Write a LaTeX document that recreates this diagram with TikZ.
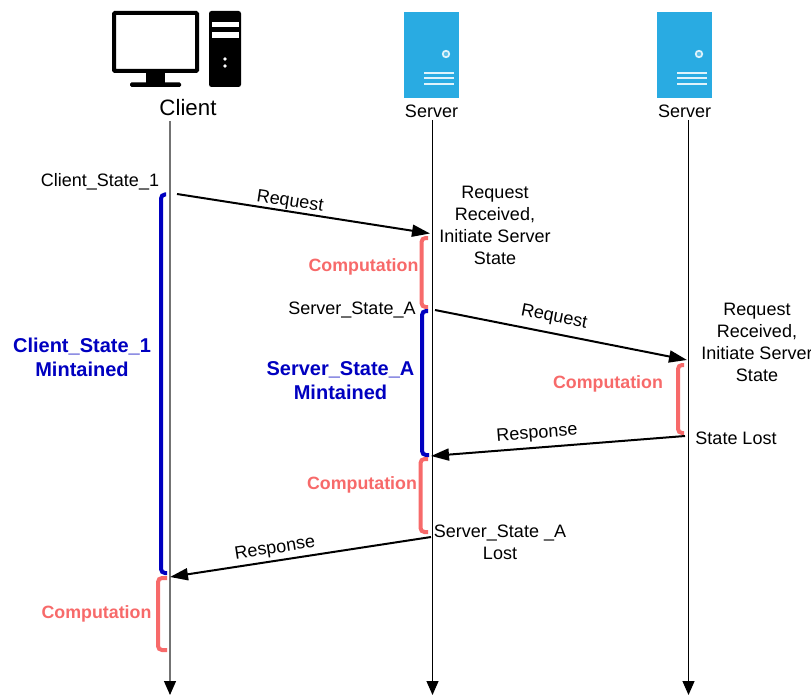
\documentclass[tikz,border=0pt]{standalone}
\usepackage{fontspec}
\setmainfont{Liberation Sans}
\usetikzlibrary{arrows.meta}
\definecolor{srv}{HTML}{29ABE2}
\definecolor{red1}{HTML}{F76A6A}
\definecolor{blu}{HTML}{0000C0}
\tikzset{
 x=1pt,y=-1pt,
 life/.style={line width=1.2pt,-{Triangle[length=14pt,width=12pt]}},
 msg/.style={line width=2pt,-{Triangle[length=18pt,width=12pt]}},
 brR/.style={draw=red1,line width=4pt,rounded corners=4pt},
 brB/.style={draw=blu,line width=4pt,rounded corners=4pt},
 lab/.style={font=\fontsize{18}{22}\selectfont,align=center,inner sep=0pt},
 comp/.style={font=\fontsize{17.8}{22}\selectfont\bfseries,text=red1,inner sep=0pt,align=center},
 maint/.style={font=\fontsize{20}{24}\selectfont\bfseries,text=blu,inner sep=0pt,align=center},
}
\begin{document}
\begin{tikzpicture}
\useasboundingbox (0,0) rectangle (811,695);
% client icon
\draw[line width=4pt,rounded corners=1pt] (114,13) rectangle (197,71);
\fill (146,71) rectangle (165,83);
\fill[rounded corners=1.5pt] (130,82.5) rectangle (181,87);
\fill[rounded corners=2.5pt] (209,11) rectangle (241,87);
\fill[white] (212,22) rectangle (239,27.5);
\fill[white] (212,32.5) rectangle (239,38);
\fill[white] (225,59) circle (1.9);
\fill[white] (225,66) circle (1.9);
% servers
\foreach \q/\n in {404/a,657/b}{
 \begin{scope}[shift={(\q,0)}]
 \fill[srv] (0,12) rectangle (55,98.5);
 \fill[white!85!srv] (42,54) circle (4.2);
 \fill[srv!75!white] (42,54) circle (2.2);
 \foreach \yy in {72,77.5,83}{\fill[white!85!srv] (20,\yy) rectangle (50,\yy+2);}
 \end{scope}
}
\node[lab,font=\fontsize{22.3}{26}\selectfont] (cl) at (188,107.5) {Client};
\node[lab,font=\fontsize{18}{22}\selectfont] (s1) at (431.5,111.5) {Server};
\node[lab,font=\fontsize{18}{22}\selectfont] (s2) at (684.5,111.5) {Server};
% lifelines
\coordinate (c0) at (170,121);\coordinate (c1) at (170,695);
\coordinate (p0) at (432.5,120);\coordinate (p1) at (432.5,695);
\coordinate (q0) at (688.5,120);\coordinate (q1) at (688.5,695);
\draw[line width=1.2pt,draw=black!55,-{Triangle[length=14pt,width=12pt,color=black,fill=black]}] (c0)--(c1);
\draw[life] (p0)--(p1);
\draw[life] (q0)--(q1);
% brackets
\draw[brB] (166,194.5)--(161,194.5)--(161,573)--(167,573);
\draw[brR] (428,238)--(421.5,238)--(421.5,307)--(428,307);
\draw[brB] (428,311)--(422,311)--(422,455)--(429,455);
\draw[brR] (428,459)--(420.5,459)--(420.5,532)--(428,532);
\draw[brR] (684,365)--(678,365)--(678,433)--(684,433);
\draw[brR] (167,578)--(158,578)--(158,650)--(167,650);
% messages
\coordinate (m1a) at (177,194);\coordinate (m1b) at (430,233.5);
\coordinate (m2a) at (435,310);\coordinate (m2b) at (687,360);
\coordinate (m3a) at (685,436);\coordinate (m3b) at (431,456);
\coordinate (m4a) at (431,537);\coordinate (m4b) at (170,577);
\draw[msg] (m1a)--(m1b);
\draw[msg] (m2a)--(m2b);
\draw[msg] (m3a)--(m3b);
\draw[msg] (m4a)--(m4b);
\node[lab,rotate=-8.8] (r1) at (290,202) {Request};
\node[lab,rotate=-11] (r2) at (554,317.5) {Request};
\node[lab,rotate=4.5] (r3) at (537,434) {Response};
\node[lab,rotate=8.8] (r4) at (275,549) {Response};
% labels
\node[lab] (t1) at (100,182) {Client\_State\_1};
\node[lab] (t2) at (352,310.5) {Server\_State\_A};
\node[lab] (t3) at (495,225.5) {Request\\Received,\\Initiate Server\\State};
\node[lab] (t4) at (757,342.5) {Request\\Received,\\Initiate Server\\State};
\node[lab] (t5) at (736,438) {State Lost};
\node[lab] (t6) at (500,542.5) {Server\_State \_A\\Lost};
\node[comp] (k1) at (363.5,267) {Computation};
\node[comp] (k2) at (608,384) {Computation};
\node[comp] (k3) at (362,484.5) {Computation};
\node[comp] (k4) at (96.5,614) {Computation};
\node[maint] (b1) at (82,357.5) {Client\_State\_1\\Mintained};
\node[maint] (b2) at (340.5,380.5) {Server\_State\_A\\Mintained};
\end{tikzpicture}
\end{document}
